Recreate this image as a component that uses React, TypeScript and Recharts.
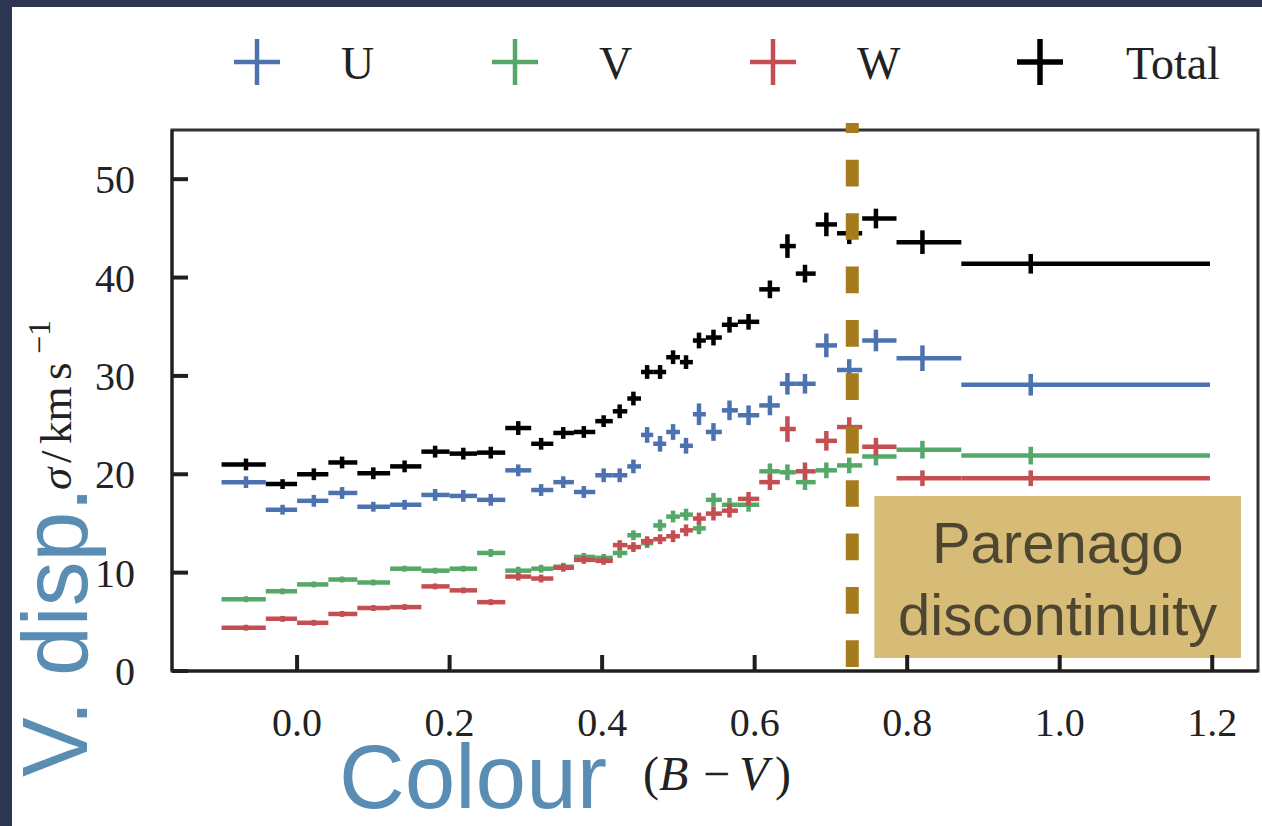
import React from 'react';
import {
  ScatterChart,
  Scatter,
  XAxis,
  YAxis,
  ErrorBar,
  ReferenceLine,
  ReferenceArea,
  Legend,
  Customized,
} from 'recharts';

// Colour bins (B - V): edges of each bin and the mean colour of the stars in it
const binEdges = [
  -0.099, -0.041, 0.0, 0.041, 0.079, 0.122, 0.163, 0.2, 0.236, 0.273, 0.307,
  0.336, 0.363, 0.391, 0.414, 0.433, 0.451, 0.467, 0.484, 0.502, 0.519, 0.536,
  0.557, 0.578, 0.606, 0.633, 0.654, 0.68, 0.708, 0.741, 0.786, 0.871, 1.197,
];
const meanColour = [
  -0.067, -0.019, 0.022, 0.059, 0.1, 0.141, 0.181, 0.218, 0.254, 0.29, 0.32,
  0.349, 0.376, 0.402, 0.423, 0.441, 0.459, 0.476, 0.493, 0.51, 0.527, 0.546,
  0.567, 0.592, 0.62, 0.643, 0.666, 0.694, 0.724, 0.759, 0.82, 0.962,
];

// Velocity dispersions (km/s) and their uncertainties
const sigmaU = [
  19.2, 16.4, 17.3, 18.1, 16.7, 16.9, 17.9, 17.8, 17.4, 20.4, 18.4, 19.2, 18.2,
  19.9, 19.9, 20.8, 24.0, 23.1, 24.3, 22.9, 26.1, 24.3, 26.5, 26.0, 27.0, 29.2,
  29.2, 33.1, 30.6, 33.6, 31.8, 29.1,
];
const errU = [
  0.6, 0.5, 0.6, 0.6, 0.5, 0.5, 0.6, 0.6, 0.6, 0.6, 0.6, 0.6, 0.6, 0.7, 0.7,
  0.7, 0.8, 0.8, 0.8, 0.8, 1.1, 0.9, 1.0, 1.0, 1.0, 1.1, 1.0, 1.2, 1.1, 1.1,
  1.3, 1.1,
];
const sigmaV = [
  7.3, 8.1, 8.8, 9.3, 9.0, 10.4, 10.2, 10.4, 12.0, 10.2, 10.4, 10.6, 11.6, 11.5,
  12.0, 13.8, 13.0, 14.8, 15.7, 15.9, 14.5, 17.4, 16.9, 16.9, 20.3, 20.2, 19.2,
  20.4, 20.9, 21.8, 22.5, 21.9,
];
const errV = [
  0.3, 0.3, 0.3, 0.3, 0.3, 0.3, 0.3, 0.3, 0.4, 0.4, 0.4, 0.4, 0.4, 0.4, 0.5,
  0.5, 0.5, 0.6, 0.6, 0.6, 0.6, 0.7, 0.7, 0.7, 0.8, 0.8, 0.8, 0.8, 0.8, 0.9,
  0.9, 0.9,
];
const sigmaW = [
  4.4, 5.3, 4.9, 5.8, 6.4, 6.5, 8.6, 8.2, 7.0, 9.6, 9.4, 10.5, 11.3, 11.2, 12.8,
  12.6, 13.2, 13.4, 13.7, 14.3, 15.5, 16.0, 16.3, 17.5, 19.2, 24.6, 20.3, 23.4,
  24.8, 22.8, 19.6, 19.6,
];
const errW = [
  0.3, 0.3, 0.3, 0.3, 0.3, 0.3, 0.3, 0.3, 0.3, 0.4, 0.4, 0.4, 0.4, 0.4, 0.5,
  0.5, 0.5, 0.5, 0.6, 0.6, 0.6, 0.7, 0.7, 0.7, 0.8, 1.3, 0.9, 1.0, 1.0, 0.9,
  0.8, 0.8,
];
const sigmaTotal = [
  21.0, 19.0, 20.0, 21.2, 20.1, 20.8, 22.3, 22.1, 22.2, 24.7, 23.1, 24.2, 24.3,
  25.4, 26.4, 27.7, 30.4, 30.4, 31.9, 31.4, 33.6, 33.9, 35.2, 35.5, 38.8, 43.2,
  40.4, 45.4, 44.5, 46.0, 43.6, 41.4,
];
const errTotal = [
  0.6, 0.5, 0.6, 0.6, 0.6, 0.6, 0.6, 0.6, 0.6, 0.7, 0.6, 0.6, 0.6, 0.6, 0.7,
  0.7, 0.7, 0.7, 0.7, 0.7, 0.8, 0.8, 0.8, 0.8, 0.9, 1.2, 0.9, 1.2, 1.1, 1.0,
  1.2, 1.0,
];

const seriesNames = ['U', 'V', 'W', 'Total'];
const seriesColours = ['#4C72B0', '#55A868', '#C44E52', '#000000'];

const xTicks = [0, 0.2, 0.4, 0.6, 0.8, 1.0, 1.2];
const yTicks = [0, 10, 20, 30, 40, 50];
const xDomain: [number, number] = [-0.164, 1.26];
const yDomain: [number, number] = [0, 55];

// Parenago discontinuity
const parenagoColour = 0.728;
const parenagoBox = { x1: 0.757, x2: 1.2377, y1: 1.32, y2: 17.78 };

const buildRows = (sigma: number[], err: number[]) =>
  meanColour.map((x, i) => ({
    x,
    y: sigma[i],
    xErr: [x - binEdges[i], binEdges[i + 1] - x],
    yErr: err[i],
  }));

const series = [
  buildRows(sigmaU, errU),
  buildRows(sigmaV, errV),
  buildRows(sigmaW, errW),
  buildRows(sigmaTotal, errTotal),
];

const W = 1262;
const H = 826;
const MARGIN = { top: 130, right: 4, bottom: 0, left: 0 };
const X_AXIS_HEIGHT = 155;
const Y_AXIS_WIDTH = 172;

const TICK_LEN = 16;
const TICK_W = 4;

const AXIS_COLOUR = '#1f1f1f';
const TITLE_BLUE = '#5A8DB3';
const SERIF = "'Liberation Serif', 'Times New Roman', serif";
const SANS = "'Liberation Sans', Arial, sans-serif";

const NoMarker = () => <g />;

// Tick labels sit outside the frame; the tick marks point inwards
const XTick = (props: any) => {
  const { x, y, payload } = props;
  return (
    <g>
      <rect x={x - TICK_W / 2} y={y - TICK_LEN} width={TICK_W} height={TICK_LEN} fill={AXIS_COLOUR} />
      <text x={x} y={y + 65} textAnchor="middle" fontFamily={SERIF} fontSize={40} fill="#222">
        {Number(payload.value).toFixed(1)}
      </text>
    </g>
  );
};

const YTick = (props: any) => {
  const { x, y, payload } = props;
  return (
    <g>
      <rect x={x} y={y - TICK_W / 2} width={TICK_LEN} height={TICK_W} fill={AXIS_COLOUR} />
      <text x={x - 37} y={y + 14} textAnchor="end" fontFamily={SERIF} fontSize={40} fill="#222">
        {payload.value}
      </text>
    </g>
  );
};

const legendCrossX = [257, 515, 773, 1040];
const legendLabelX = [341, 599, 857, 1126];

const renderLegend = () => (
  <svg width={W} height={110} style={{ display: 'block' }}>
    {seriesNames.map((name, i) => {
      const cx = legendCrossX[i];
      const c = seriesColours[i];
      const sw = i === 3 ? 5.5 : 4.5;
      return (
        <g key={name}>
          <line x1={cx - 23} x2={cx + 23} y1={62} y2={62} stroke={c} strokeWidth={sw} />
          <line x1={cx} x2={cx} y1={39} y2={85} stroke={c} strokeWidth={sw} />
          <text x={legendLabelX[i]} y={79} fontFamily={SERIF} fontSize={46} fill="#222">
            {name}
          </text>
        </g>
      );
    })}
  </svg>
);

const AxisTitles = () => (
  <g>
    <text
      transform="translate(87,777) rotate(-90)"
      fontFamily={SANS}
      fontSize={92}
      textLength={290}
      lengthAdjust="spacingAndGlyphs"
      fill={TITLE_BLUE}
    >
      V. disp.
    </text>
    <g transform="translate(71,490) rotate(-90)" fontFamily={SERIF} fill="#222">
      <text x={0} y={0} fontSize={45} fontStyle="italic">σ</text>
      <text x={27} y={0} fontSize={45}>/</text>
      <text x={46} y={0} fontSize={45}>km</text>
      <text x={110} y={0} fontSize={45}>s</text>
      <text x={136} y={-21} fontSize={32}>−1</text>
    </g>
    <text x={339} y={808} fontFamily={SANS} fontSize={91} fill={TITLE_BLUE}>
      Colour
    </text>
    <g fontFamily={SERIF} fontSize={48} fill="#222">
      <text x={643} y={790}>(</text>
      <text x={659} y={790} fontStyle="italic">B</text>
      <text x={703} y={790}>−</text>
      <text x={739} y={790} fontStyle="italic">V</text>
      <text x={775} y={790}>)</text>
    </g>
  </g>
);

const ParenagoLabel = (props: any) => {
  const { x, y, width } = props.viewBox;
  const cx = x + width / 2;
  const common = {
    textAnchor: 'middle' as const,
    fontFamily: SANS,
    fontSize: 58,
    fill: '#4E4631',
  };
  return (
    <g>
      <text x={cx} y={y + 67} {...common}>
        Parenago
      </text>
      <text x={cx} y={y + 139} {...common}>
        discontinuity
      </text>
    </g>
  );
};

export default function App() {
  return (
    <div style={{ position: 'fixed', left: 0, top: 0, width: W, height: H, background: '#2C3650' }}>
      <div style={{ position: 'absolute', left: 12, top: 7, right: 0, bottom: 0, background: '#ffffff' }} />
      <div style={{ position: 'absolute', left: 0, top: 0 }}>
        <ScatterChart width={W} height={H} margin={MARGIN}>
          <XAxis
            type="number"
            dataKey="x"
            domain={xDomain}
            allowDataOverflow
            ticks={xTicks}
            height={X_AXIS_HEIGHT}
            tickSize={0}
            tickMargin={0}
            tickLine={false}
            axisLine={{ stroke: AXIS_COLOUR, strokeWidth: 3 }}
            tick={<XTick />}
          />
          <YAxis
            type="number"
            dataKey="y"
            domain={yDomain}
            allowDataOverflow
            ticks={yTicks}
            width={Y_AXIS_WIDTH}
            tickSize={0}
            tickMargin={0}
            tickLine={false}
            axisLine={{ stroke: AXIS_COLOUR, strokeWidth: 3 }}
            tick={<YTick />}
          />
          <Legend
            content={renderLegend}
            layout="horizontal"
            verticalAlign="middle"
            align="center"
            width={W}
            height={110}
            wrapperStyle={{ left: 0, top: 0, width: W, height: 110 }}
          />
          {/* Plot frame */}
          <ReferenceArea
            x1={xDomain[0]}
            x2={xDomain[1]}
            y1={yDomain[0]}
            y2={yDomain[1]}
            ifOverflow="visible"
            fill="none"
            fillOpacity={0}
            stroke="#333333"
            strokeWidth={3}
          />
          <ReferenceArea
            x1={parenagoBox.x1}
            x2={parenagoBox.x2}
            y1={parenagoBox.y1}
            y2={parenagoBox.y2}
            ifOverflow="visible"
            fill="#D6BC77"
            fillOpacity={1}
            stroke="none"
            label={<ParenagoLabel />}
          />
          {series.map((rows, i) => (
            <Scatter
              key={seriesNames[i]}
              name={seriesNames[i]}
              data={rows}
              fill={seriesColours[i]}
              shape={NoMarker}
              isAnimationActive={false}
            >
              <ErrorBar
                dataKey="xErr"
                direction="x"
                width={0}
                stroke={seriesColours[i]}
                strokeWidth={4.5}
                isAnimationActive={false}
              />
              <ErrorBar
                dataKey="yErr"
                direction="y"
                width={0}
                stroke={seriesColours[i]}
                strokeWidth={4.5}
                isAnimationActive={false}
              />
            </Scatter>
          ))}
          <ReferenceLine
            segment={[
              { x: parenagoColour, y: 0.4 },
              { x: parenagoColour, y: 55.7 },
            ]}
            ifOverflow="visible"
            stroke="#A47C1D"
            strokeWidth={13}
            strokeDasharray="26.7 26.7"
          />
          <Customized component={AxisTitles} />
        </ScatterChart>
      </div>
    </div>
  );
}
